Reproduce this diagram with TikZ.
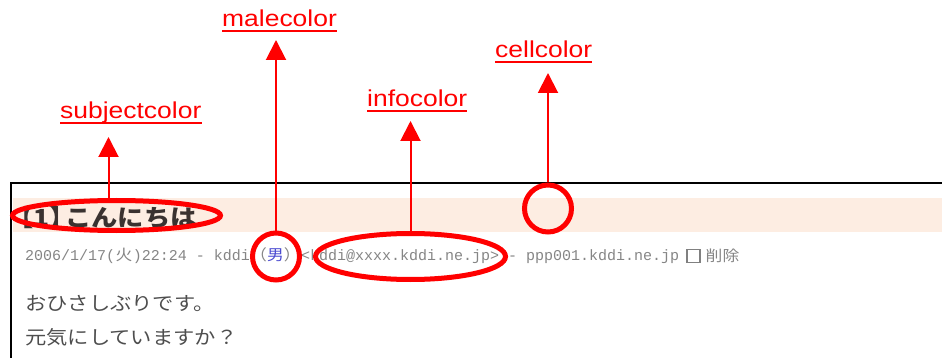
\documentclass[tikz,border=0pt]{standalone}
\usepackage{fontspec}
\setmainfont{Liberation Sans}
\newfontfamily\tagfont[FakeStretch=1.15]{Liberation Sans}
\newfontfamily\jpfont[FakeStretch=1.12]{Noto Sans CJK JP}
\newfontfamily\infofont{Liberation Mono}
\usetikzlibrary{arrows.meta,positioning,shapes.geometric}
\definecolor{cellpeach}{HTML}{FDEDE2}
\definecolor{subjdark}{HTML}{3A3230}
\definecolor{infogrey}{HTML}{858585}
\definecolor{bodygrey}{HTML}{4E4E4E}
\definecolor{maleblue}{HTML}{4A4AD0}

\begin{document}
\begin{tikzpicture}[x=1pt, y=-1pt,
    tag/.style={text=red, inner sep=0pt, anchor=base west, font=\tagfont\fontsize{23}{26}\selectfont},
    uline/.style={red, line width=2.5pt},
    ring/.style={draw=red, line width=5pt, inner sep=0pt},
    pointer/.style={red, line width=2pt, -{Triangle[width=20pt,length=20pt]}},
    info/.style={text=infogrey, inner sep=0pt, font=\infofont\fontsize{15}{18}\selectfont},
    infojp/.style={text=infogrey, inner sep=0pt, font=\jpfont\fontsize{15}{18}\selectfont},
    body/.style={text=bodygrey, inner sep=0pt, anchor=base west, font=\jpfont\fontsize{19}{22}\selectfont}]
    \useasboundingbox (0, 0) rectangle (942, 358);
    % message panel
    \fill[cellpeach] (13, 198) rectangle (942, 232);
    \draw[line width=2pt] (942, 183) -- (11, 183) -- (11, 358);
    \node[text=subjdark, inner sep=0pt, anchor=base east, font=\jpfont\bfseries\fontsize{23.5}{26}\selectfont] (subject) at (197, 226) {【1】\kern-0.45em こんにちは};
    \node[info, anchor=base west] (date) at (25, 260) {2006/1/17(};
    \node[infojp, base right=0pt of date] (wday) {火};
    \node[info, base right=0pt of wday] (time) {)22:24 - kddi};
    \node[infojp, base right=0pt of time] (sex) {（\textcolor{maleblue}{男}）};
    \node[info, base right=0pt of sex] (host) {<kddi@xxxx.kddi.ne.jp> - ppp001.kddi.ne.jp};
    \node[draw=gray, line width=1.2pt, fill=white, minimum size=13pt, inner sep=0pt, right=7pt of host] (chk) {};
    \node[infojp, right=5pt of chk] (del) {削除};
    \node[body] (line1) at (25, 310) {おひさしぶりです。};
    \node[body] (line2) at (25, 344) {元気にしていますか？};
    % red marks
    \node[ring, ellipse, minimum width=208pt, minimum height=30pt] (subjring) at (116.5, 215.5) {};
    \node[ring, circle, minimum size=47pt] (malering) at (276, 256.5) {};
    \node[ring, ellipse, minimum width=190pt, minimum height=46pt] (inforing) at (410.5, 256.5) {};
    \node[ring, circle, minimum size=47pt] (cellring) at (548, 208.5) {};
    % labels
    \node[tag] (subjtag) at (60, 119) {subjectcolor};
    \node[tag] (maletag) at (222, 27) {malecolor};
    \node[tag] (infotag) at (367, 107) {infocolor};
    \node[tag] (celltag) at (495, 58) {cellcolor};
    \draw[uline] ([yshift=-4pt]subjtag.base west) -- ([yshift=-4pt]subjtag.base east);
    \draw[uline] ([yshift=-4pt]maletag.base west) -- ([yshift=-4pt]maletag.base east);
    \draw[uline] ([yshift=-4pt]infotag.base west) -- ([yshift=-4pt]infotag.base east);
    \draw[uline] ([yshift=-4pt]celltag.base west) -- ([yshift=-4pt]celltag.base east);
    \coordinate (subjfoot) at ([xshift=-8pt]subjring.north);
    \draw[pointer, shorten >=18pt] (subjfoot) -- (subjfoot |- subjtag.base);
    \draw[pointer, shorten >=13pt] (malering.north) -- (malering.north |- maletag.base);
    \draw[pointer, shorten >=14pt] (inforing.north) -- (inforing.north |- infotag.base);
    \draw[pointer, shorten >=15pt] (cellring.north) -- (cellring.north |- celltag.base);
\end{tikzpicture}
\end{document}
